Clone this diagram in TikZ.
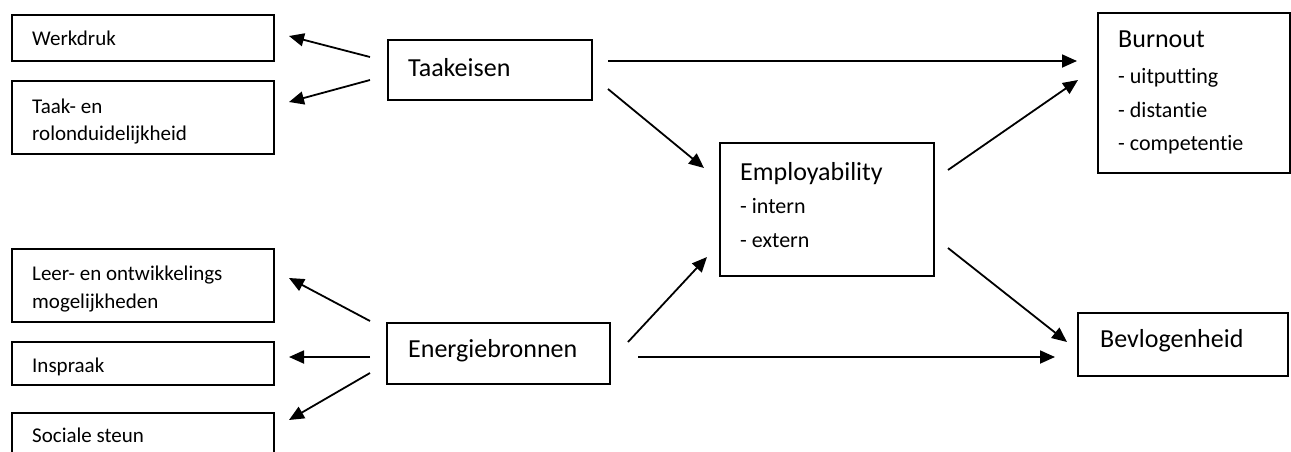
\documentclass[tikz,border=0pt]{standalone}
\usepackage{fontspec}
\setmainfont[Ligatures={NoCommon}]{Carlito}
\usetikzlibrary{arrows.meta}
\begin{document}
\begin{tikzpicture}[x=1pt,y=-1pt,
  boxn/.style={draw=black,line width=2pt,rectangle,inner sep=0pt,anchor=north west},
  bigt/.style={anchor=base west,inner sep=0pt,font=\fontsize{26}{34}\selectfont},
  smallt/.style={anchor=base west,inner sep=0pt,font=\fontsize{21}{27}\selectfont},
  midt/.style={anchor=base west,inner sep=0pt,font=\fontsize{22}{28}\selectfont},
  arr/.style={line width=1.8pt,-{Triangle[length=15pt,width=13pt]}}]
\clip (0,0) rectangle (1291,451);
% boxes
\node[boxn,minimum width=262pt,minimum height=46pt] (wd) at (11,14) {};
\node[boxn,minimum width=262pt,minimum height=73pt] (tr) at (11,80) {};
\node[boxn,minimum width=262pt,minimum height=73pt] (le) at (11,248) {};
\node[boxn,minimum width=262pt,minimum height=43pt] (ins) at (11,341) {};
\node[boxn,minimum width=262pt,minimum height=70pt] (so) at (11,412) {};
\node[boxn,minimum width=204pt,minimum height=60pt] (ta) at (387,39) {};
\node[boxn,minimum width=223pt,minimum height=61pt] (en) at (386,322) {};
\node[boxn,minimum width=214pt,minimum height=133pt] (em) at (719,142) {};
\node[boxn,minimum width=192pt,minimum height=160pt] (bu) at (1097,12) {};
\node[boxn,minimum width=210pt,minimum height=63pt] (bv) at (1077,312) {};
% texts
\node[smallt] (wdT) at (32,45) {Werkdruk};
\node[smallt] (trT1) at (32,113) {Taak- en};
\node[smallt] (trT2) at (32,140) {rolonduidelijkheid};
\node[smallt] (leT1) at (32,280) {Leer- en ontwikkelings};
\node[smallt] (leT2) at (32,308) {mogelijkheden};
\node[smallt] (insT) at (32,372) {Inspraak};
\node[smallt] (soT) at (32,442) {Sociale steun};
\node[bigt] (taT) at (408,76) {Taakeisen};
\node[bigt] (enT) at (408,357) {Energiebronnen};
\node[bigt] (emT1) at (740,180) {Employability};
\node[midt] (emT2) at (740,213) {- intern};
\node[midt] (emT3) at (740,247) {- extern};
\node[bigt] (buT1) at (1118,47) {Burnout};
\node[midt] (buT2) at (1118,83) {- uitputting};
\node[midt] (buT3) at (1118,117) {- distantie};
\node[midt] (buT4) at (1118,150) {- competentie};
\node[bigt] (bvT) at (1100,347) {Bevlogenheid};
% connector endpoints
\coordinate (a1s) at (370,57);  \coordinate (a1e) at (289,36);
\coordinate (a2s) at (370,80);  \coordinate (a2e) at (289,102);
\coordinate (a3s) at (370,321); \coordinate (a3e) at (289,278);
\coordinate (a4s) at (370,357); \coordinate (a4e) at (289,357);
\coordinate (a5s) at (370,373); \coordinate (a5e) at (289,420);
\coordinate (a6s) at (608,61);  \coordinate (a6e) at (1077,61);
\coordinate (a7s) at (608,89);  \coordinate (a7e) at (704,168);
\coordinate (a8s) at (948,170); \coordinate (a8e) at (1078,80);
\coordinate (a9s) at (628,342); \coordinate (a9e) at (707,257);
\coordinate (a10s) at (638,357); \coordinate (a10e) at (1055,357);
\coordinate (a11s) at (948,248); \coordinate (a11e) at (1067,342);
\foreach \i in {1,...,11} {\draw[arr] (a\i s) -- (a\i e);}
\end{tikzpicture}
\end{document}
